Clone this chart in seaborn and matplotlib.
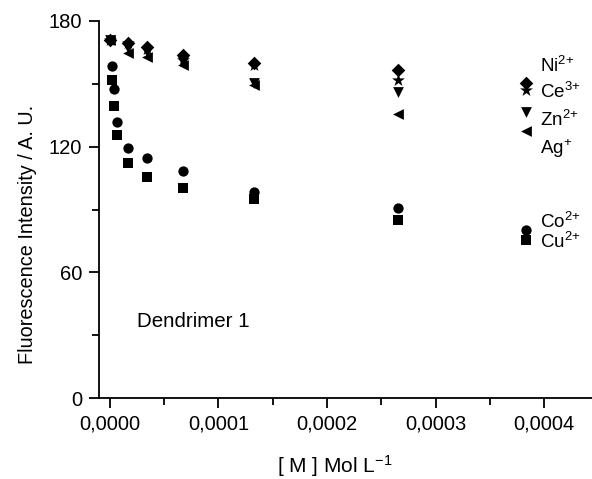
import pandas as pd
import matplotlib
matplotlib.use("Agg")
import matplotlib.pyplot as plt
import matplotlib.ticker as mticker
import seaborn as sns

# concentrations (mol/L)
conc_cu_co = [1.6e-6, 4.0e-6, 6.2e-6, 1.66e-5, 3.38e-5, 6.7e-5, 1.33e-4, 2.65e-4, 3.83e-4]
conc_metals = [0.0, 1.66e-5, 3.38e-5, 6.7e-5, 1.33e-4, 2.65e-4, 3.83e-4]

co = [158.7, 147.4, 132.0, 119.5, 114.8, 108.5, 98.5, 90.6, 80.2]
cu = [151.9, 139.4, 125.6, 112.4, 105.7, 100.4, 94.9, 85.0, 75.5]
ni = [171.0, 169.5, 167.5, 164.0, 160.0, 156.6, 150.3]
ce = [171.0, 169.5, 166.5, 161.5, 159.0, 152.0, 147.1]
zn = [171.0, 167.0, 165.0, 160.5, 150.5, 146.3, 136.7]
ag = [171.0, 164.5, 163.0, 159.0, 149.5, 135.6, 127.6]

ions = ["Ni", "Ce", "Zn", "Ag", "Co", "Cu"]
labels = [r"Ni$^{2{+}}$", r"Ce$^{3{+}}$", r"Zn$^{2{+}}$", r"Ag$^{{+}}$", r"Co$^{2{+}}$", r"Cu$^{2{+}}$"]
label_y = [158.5, 146.3, 132.8, 119.2, 84.2, 74.6]

frames = []
for name, xs, ys in [("Ni", conc_metals, ni), ("Ce", conc_metals, ce),
                     ("Zn", conc_metals, zn), ("Ag", conc_metals, ag),
                     ("Co", conc_cu_co, co), ("Cu", conc_cu_co, cu)]:
    frames.append(pd.DataFrame({"conc": xs, "intensity": ys, "ion": name}))
df = pd.concat(frames, ignore_index=True)

sns.set_style("ticks", {"axes.edgecolor": "black", "text.color": "black",
                        "axes.labelcolor": "black", "xtick.color": "black",
                        "ytick.color": "black"})
plt.rcParams["font.family"] = ["Liberation Sans", "DejaVu Sans"]
plt.rcParams["mathtext.fontset"] = "custom"
plt.rcParams["mathtext.rm"] = "Liberation Sans"
plt.rcParams["mathtext.it"] = "Liberation Sans"
plt.rcParams["mathtext.default"] = "regular"

fig = plt.figure(figsize=(5.92, 4.79), dpi=100)
ax = fig.add_axes([99 / 592, 1 - 398 / 479, 1 - 99 / 592, (398 - 21) / 479])

markers = {"Ni": "D", "Ce": "*", "Zn": "v", "Ag": "<", "Co": "o", "Cu": "s"}
sizes = {"Ni": 48, "Ce": 95, "Zn": 60, "Ag": 60, "Co": 55, "Cu": 45}
for name in ions:
    sub = df[df["ion"] == name]
    sns.scatterplot(data=sub, x="conc", y="intensity", marker=markers[name],
                    color="black", s=sizes[name], edgecolor="black", linewidth=0,
                    legend=False, ax=ax, zorder=3)

for lab, ly in zip(labels, label_y):
    ax.text(3.96e-4, ly, lab, fontsize=13.5, va="center", ha="left")

ax.text(2.5e-5, 36.4, "Dendrimer 1", fontsize=14.8, va="center", ha="left")

ax.set_xlim(-1.0e-5, 4.44e-4)
ax.set_ylim(0, 180)
ax.xaxis.set_major_locator(mticker.MultipleLocator(1e-4))
ax.xaxis.set_minor_locator(mticker.MultipleLocator(5e-5))
ax.yaxis.set_major_locator(mticker.MultipleLocator(60))
ax.yaxis.set_minor_locator(mticker.MultipleLocator(30))
ax.xaxis.set_major_formatter(mticker.FuncFormatter(lambda v, p: f"{v:.4f}".replace(".", ",")))
ax.yaxis.set_major_formatter(mticker.FuncFormatter(lambda v, p: f"{v:.0f}"))
ax.tick_params(which="major", direction="out", length=7, width=1.3, labelsize=14.5, pad=5)
ax.tick_params(which="minor", direction="out", length=5, width=1.3)

for side in ["top", "right"]:
    ax.spines[side].set_visible(False)
for side in ["left", "bottom"]:
    ax.spines[side].set_linewidth(1.3)

ax.set_xlabel(r"[ M ] Mol L$^{-1}$", fontsize=15)
ax.set_ylabel("Fluorescence Intensity / A. U.", fontsize=14.3)
ax.xaxis.set_label_coords(0.479, -0.145)
ax.yaxis.set_label_coords(-0.125, 0.435)

fig.savefig("out.png", dpi=100)
